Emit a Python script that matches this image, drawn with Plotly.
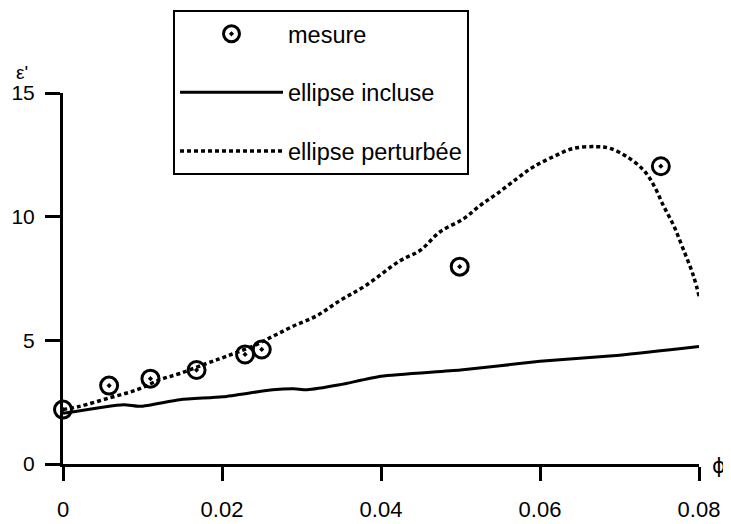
import plotly.graph_objects as go

# Measured points
phi_mesure = [0.0, 0.0058, 0.011, 0.0168, 0.0229, 0.025, 0.0499, 0.0752]
eps_mesure = [2.2, 3.17, 3.45, 3.8, 4.43, 4.63, 7.98, 12.04]

# Model: ellipse incluse (solid)
phi_incluse = [0.0, 0.0076, 0.0097, 0.0147, 0.0201, 0.0264, 0.029, 0.0307, 0.0348, 0.04, 0.05, 0.06, 0.07, 0.08]
eps_incluse = [2.05, 2.4, 2.33, 2.6, 2.72, 3.0, 3.04, 3.0, 3.2, 3.55, 3.8, 4.15, 4.4, 4.75]

# Model: ellipse perturbée (dotted)
phi_pert = [0.0, 0.0021, 0.0059, 0.0093, 0.0122, 0.0147, 0.0181, 0.0206, 0.0239, 0.0265, 0.029,
            0.0319, 0.0348, 0.038, 0.0424, 0.0449, 0.0474, 0.0504, 0.0525, 0.0546, 0.0571,
            0.0592, 0.0617, 0.0642, 0.0671, 0.0688, 0.0709, 0.073, 0.0743, 0.0755, 0.0768,
            0.078, 0.0793, 0.0801]
eps_pert = [2.2, 2.33, 2.68, 3.0, 3.41, 3.66, 4.07, 4.36, 4.77, 5.18, 5.58,
            5.99, 6.6, 7.2, 8.22, 8.63, 9.38, 9.92, 10.46, 10.93, 11.54,
            12.02, 12.43, 12.76, 12.83, 12.76, 12.43, 11.89, 11.28, 10.46, 9.65,
            8.7, 7.61, 6.67]

x_ticks = [0, 0.02, 0.04, 0.06, 0.08]
x_ticktext = ["0", "0.02", "0.04", "0.06", "0.08"]
y_ticks = [0, 5, 10, 15]
y_ticktext = ["0", "5", "10", "15"]

FONT = "Liberation Sans, Arial, sans-serif"

# page body has an 8px margin: figure is placed at (8, 8)
PAD = 8
L, R, T, B = 63 - PAD, 32, 93 - PAD, 60
PW = 699 - 63  # plot width in px
PH = 464 - 93  # plot height in px

fig = go.Figure()
fig.add_trace(go.Scatter(
    x=phi_mesure, y=eps_mesure, mode="markers", name="mesure",
    legendgroup="a", cliponaxis=False,
    marker=dict(symbol="circle-open-dot", size=17, color="black", line=dict(width=3, color="black")),
))
fig.add_trace(go.Scatter(
    x=phi_incluse, y=eps_incluse, mode="lines", name="ellipse incluse",
    legendgroup="b", cliponaxis=False, line_shape="spline",
    line=dict(color="black", width=3, smoothing=0.6),
))
fig.add_trace(go.Scatter(
    x=phi_pert, y=eps_pert, mode="lines", name="ellipse perturbée",
    legendgroup="c", cliponaxis=False, line_shape="spline",
    line=dict(color="black", width=3.5, dash="4px,3px"),
))

fig.update_layout(
    width=731 - PAD, height=524 - PAD,
    margin=dict(l=L, r=R, t=T, b=B, autoexpand=False),
    paper_bgcolor="white", plot_bgcolor="white",
    font=dict(family=FONT, color="black", size=21),
    showlegend=True,
    legend=dict(
        x=(173 - 63) / PW, y=(464 - 10) / PH, xanchor="left", yanchor="top",
        bordercolor="black", borderwidth=2, bgcolor="white",
        font=dict(size=23.5, family=FONT),
        traceorder="grouped", tracegroupgap=25,
        itemwidth=103,
    ),
    xaxis=dict(
        range=[0, 0.08], showgrid=False, zeroline=False, automargin=False,
        showline=True, linecolor="black", linewidth=3,
        ticks="outside", ticklen=14, tickwidth=3, tickcolor="black",
        tickvals=x_ticks, ticktext=x_ticktext, ticklabelstandoff=10,
        tickfont=dict(size=22),
    ),
    yaxis=dict(
        range=[0, 15], showgrid=False, zeroline=False, automargin=False,
        showline=True, linecolor="black", linewidth=3,
        ticks="outside", ticklen=15, tickwidth=3, tickcolor="black",
        tickvals=y_ticks, ticktext=y_ticktext, ticklabelstandoff=6,
        tickfont=dict(size=21),
    ),
    annotations=[
        dict(text="ε'", xref="paper", yref="paper", x=(22 - 63) / PW, y=(464 - 73) / PH,
             showarrow=False, font=dict(size=19, family=FONT), xanchor="center", yanchor="middle"),
        dict(text="ϕ", xref="paper", yref="paper", x=(719 - 63) / PW, y=(464 - 466) / PH,
             showarrow=False, font=dict(size=21, family="DejaVu Sans, sans-serif"),
             xanchor="center", yanchor="middle"),
    ],
)

fig.write_html("out.html")
